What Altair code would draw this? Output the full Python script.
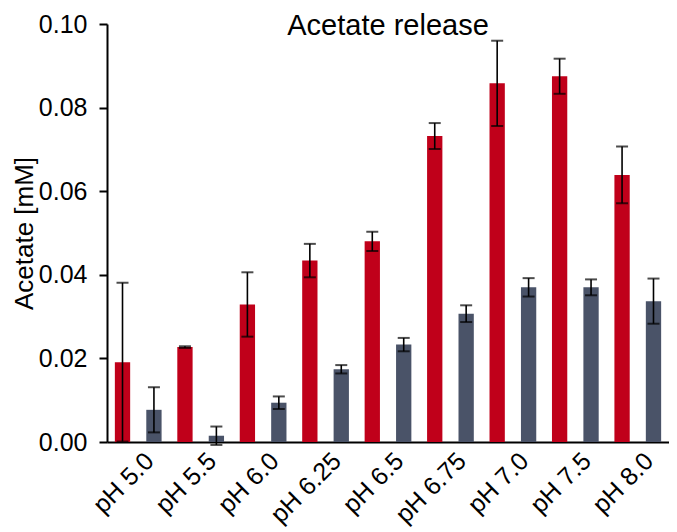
import altair as alt
import pandas as pd

categories = ["pH 5.0", "pH 5.5", "pH 6.0", "pH 6.25", "pH 6.5", "pH 6.75", "pH 7.0", "pH 7.5", "pH 8.0"]
series_names = ["Series 1", "Series 2"]
series1 = [0.0191, 0.0227, 0.0329, 0.0434, 0.0480, 0.0732, 0.0858, 0.0875, 0.0639]
series1_err = [0.0190, 0.0002, 0.0077, 0.0040, 0.0023, 0.0031, 0.0102, 0.0042, 0.0068]
series2 = [0.0077, 0.0015, 0.0094, 0.0174, 0.0233, 0.0307, 0.0370, 0.0370, 0.0337]
series2_err = [0.0054, 0.0022, 0.0015, 0.0010, 0.0016, 0.0020, 0.0022, 0.0019, 0.0054]
colors = ["#C0001A", "#4A5368"]

rows = []
for name, vals, errs in [(series_names[0], series1, series1_err), (series_names[1], series2, series2_err)]:
    for c, v, e in zip(categories, vals, errs):
        rows.append({"category": c, "series": name, "value": v, "lo": v - e, "hi": v + e})
df = pd.DataFrame(rows)

FONT = "Liberation Sans"

base = alt.Chart(df).encode(
    x=alt.X(
        "category:N",
        sort=categories,
        scale=alt.Scale(paddingInner=0, paddingOuter=0),
        axis=alt.Axis(
            title=None,
            labelAngle=-45,
            labelAlign="right",
            labelBaseline="top",
            labelFontSize=25,
            labelFont=FONT,
            labelColor="black",
            labelPadding=6,
            labelOffset=3,
            ticks=False,
            domainColor="black",
            domainWidth=2,
        ),
    ),
    xOffset=alt.XOffset(
        "series:N",
        sort=series_names,
        scale=alt.Scale(paddingInner=0.513, paddingOuter=0.25),
    ),
)

yscale = alt.Scale(domain=[0, 0.1], nice=False, zero=True)

bars = base.mark_bar().encode(
    y=alt.Y(
        "value:Q",
        scale=yscale,
        axis=alt.Axis(
            title="Acetate [mM]",
            values=[0, 0.02, 0.04, 0.06, 0.08, 0.10],
            format=".2f",
            labelFontSize=25,
            labelFont=FONT,
            labelColor="black",
            labelPadding=12,
            tickSize=8,
            tickWidth=2,
            tickColor="black",
            domainColor="black",
            domainWidth=2,
            titleFontSize=26,
            titleFont=FONT,
            titleFontWeight="normal",
            titleColor="black",
            titleX=-75,
            titleY=209,
            titleBaseline="alphabetic",
            titleAlign="center",
        ),
    ),
    color=alt.Color(
        "series:N",
        scale=alt.Scale(domain=series_names, range=colors),
        legend=None,
    ),
)

rules = base.mark_rule(color="black", strokeWidth=1.6).encode(
    y=alt.Y("lo:Q", scale=yscale), y2="hi:Q"
)
caps_hi = base.mark_tick(color="black", thickness=2, size=12).encode(
    y=alt.Y("hi:Q", scale=yscale)
)
caps_lo = base.mark_tick(color="black", thickness=2, size=12).encode(
    y=alt.Y("lo:Q", scale=yscale)
)

chart = (
    alt.layer(bars, rules, caps_hi, caps_lo)
    .properties(
        width=562,
        height=418,
        autosize=alt.AutoSizeParams(type="none"),
        padding={"left": 99, "top": 16, "right": 0, "bottom": 90},
        title=alt.TitleParams(
            "Acetate release",
            fontSize=29,
            font=FONT,
            fontWeight="normal",
            color="black",
            anchor="middle",
            frame="group",
            baseline="alphabetic",
            offset=0,
            dy=52,
        ),
    )
    .configure_view(stroke=None)
    .configure_axis(grid=False)
)

chart.save("out.html", embed_options={"renderer": "svg", "actions": False})
